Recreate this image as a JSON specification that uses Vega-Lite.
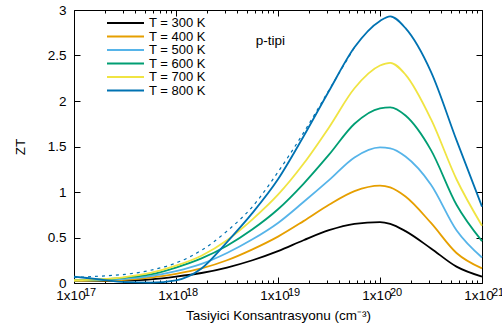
{
  "$schema": "https://vega.github.io/schema/vega-lite/v6.json",
  "width": 408,
  "height": 273,
  "autosize": "none",
  "padding": {"left": 74, "top": 10, "right": 20, "bottom": 52},
  "background": "white",
  "config": {
    "view": {"stroke": "#000", "strokeWidth": 1},
    "font": "Liberation Sans",
    "axis": {
      "grid": false, "domain": false, "tickColor": "#000", "tickWidth": 1,
      "labelColor": "#000", "titleColor": "#000",
      "labelFont": "Liberation Sans", "titleFont": "Liberation Sans",
      "labelFontSize": 13.5, "titleFontSize": 13.5, "titleFontWeight": "normal",
      "labelFlush": false, "labelOverlap": false
    }
  },
  "datasets": {
    "curves": [
      {"n": 1e17, "ZT": 0.02, "T": "T = 300 K"},
      {"n": 1.778e17, "ZT": 0.02, "T": "T = 300 K"},
      {"n": 3.162e17, "ZT": 0.025, "T": "T = 300 K"},
      {"n": 5.623e17, "ZT": 0.04, "T": "T = 300 K"},
      {"n": 1e18, "ZT": 0.07, "T": "T = 300 K"},
      {"n": 1.778e18, "ZT": 0.11, "T": "T = 300 K"},
      {"n": 3.162e18, "ZT": 0.17, "T": "T = 300 K"},
      {"n": 5.623e18, "ZT": 0.25, "T": "T = 300 K"},
      {"n": 1e19, "ZT": 0.35, "T": "T = 300 K"},
      {"n": 1.778e19, "ZT": 0.47, "T": "T = 300 K"},
      {"n": 3.162e19, "ZT": 0.58, "T": "T = 300 K"},
      {"n": 5.623e19, "ZT": 0.65, "T": "T = 300 K"},
      {"n": 1e20, "ZT": 0.67, "T": "T = 300 K"},
      {"n": 1.259e20, "ZT": 0.65, "T": "T = 300 K"},
      {"n": 1.778e20, "ZT": 0.57, "T": "T = 300 K"},
      {"n": 3.162e20, "ZT": 0.38, "T": "T = 300 K"},
      {"n": 5.623e20, "ZT": 0.18, "T": "T = 300 K"},
      {"n": 1e21, "ZT": 0.07, "T": "T = 300 K"},

      {"n": 1e17, "ZT": 0.02, "T": "T = 400 K"},
      {"n": 1.778e17, "ZT": 0.025, "T": "T = 400 K"},
      {"n": 3.162e17, "ZT": 0.035, "T": "T = 400 K"},
      {"n": 5.623e17, "ZT": 0.06, "T": "T = 400 K"},
      {"n": 1e18, "ZT": 0.10, "T": "T = 400 K"},
      {"n": 1.778e18, "ZT": 0.16, "T": "T = 400 K"},
      {"n": 3.162e18, "ZT": 0.25, "T": "T = 400 K"},
      {"n": 5.623e18, "ZT": 0.37, "T": "T = 400 K"},
      {"n": 1e19, "ZT": 0.51, "T": "T = 400 K"},
      {"n": 1.778e19, "ZT": 0.68, "T": "T = 400 K"},
      {"n": 3.162e19, "ZT": 0.86, "T": "T = 400 K"},
      {"n": 5.623e19, "ZT": 1.01, "T": "T = 400 K"},
      {"n": 1e20, "ZT": 1.07, "T": "T = 400 K"},
      {"n": 1.259e20, "ZT": 1.05, "T": "T = 400 K"},
      {"n": 1.778e20, "ZT": 0.95, "T": "T = 400 K"},
      {"n": 3.162e20, "ZT": 0.66, "T": "T = 400 K"},
      {"n": 5.623e20, "ZT": 0.33, "T": "T = 400 K"},
      {"n": 1e21, "ZT": 0.16, "T": "T = 400 K"},

      {"n": 1e17, "ZT": 0.03, "T": "T = 500 K"},
      {"n": 1.778e17, "ZT": 0.03, "T": "T = 500 K"},
      {"n": 3.162e17, "ZT": 0.045, "T": "T = 500 K"},
      {"n": 5.623e17, "ZT": 0.075, "T": "T = 500 K"},
      {"n": 1e18, "ZT": 0.13, "T": "T = 500 K"},
      {"n": 1.778e18, "ZT": 0.21, "T": "T = 500 K"},
      {"n": 3.162e18, "ZT": 0.33, "T": "T = 500 K"},
      {"n": 5.623e18, "ZT": 0.48, "T": "T = 500 K"},
      {"n": 1e19, "ZT": 0.66, "T": "T = 500 K"},
      {"n": 1.778e19, "ZT": 0.89, "T": "T = 500 K"},
      {"n": 3.162e19, "ZT": 1.13, "T": "T = 500 K"},
      {"n": 5.623e19, "ZT": 1.38, "T": "T = 500 K"},
      {"n": 1e20, "ZT": 1.49, "T": "T = 500 K"},
      {"n": 1.259e20, "ZT": 1.48, "T": "T = 500 K"},
      {"n": 1.778e20, "ZT": 1.39, "T": "T = 500 K"},
      {"n": 3.162e20, "ZT": 1.08, "T": "T = 500 K"},
      {"n": 5.623e20, "ZT": 0.58, "T": "T = 500 K"},
      {"n": 1e21, "ZT": 0.28, "T": "T = 500 K"},

      {"n": 1e17, "ZT": 0.03, "T": "T = 600 K"},
      {"n": 1.778e17, "ZT": 0.04, "T": "T = 600 K"},
      {"n": 3.162e17, "ZT": 0.06, "T": "T = 600 K"},
      {"n": 5.623e17, "ZT": 0.095, "T": "T = 600 K"},
      {"n": 1e18, "ZT": 0.17, "T": "T = 600 K"},
      {"n": 1.778e18, "ZT": 0.27, "T": "T = 600 K"},
      {"n": 3.162e18, "ZT": 0.41, "T": "T = 600 K"},
      {"n": 5.623e18, "ZT": 0.59, "T": "T = 600 K"},
      {"n": 1e19, "ZT": 0.81, "T": "T = 600 K"},
      {"n": 1.778e19, "ZT": 1.09, "T": "T = 600 K"},
      {"n": 3.162e19, "ZT": 1.41, "T": "T = 600 K"},
      {"n": 5.623e19, "ZT": 1.75, "T": "T = 600 K"},
      {"n": 1e20, "ZT": 1.92, "T": "T = 600 K"},
      {"n": 1.259e20, "ZT": 1.93, "T": "T = 600 K"},
      {"n": 1.778e20, "ZT": 1.84, "T": "T = 600 K"},
      {"n": 3.162e20, "ZT": 1.46, "T": "T = 600 K"},
      {"n": 5.623e20, "ZT": 0.86, "T": "T = 600 K"},
      {"n": 1e21, "ZT": 0.46, "T": "T = 600 K"},

      {"n": 1e17, "ZT": 0.03, "T": "T = 700 K"},
      {"n": 1.778e17, "ZT": 0.04, "T": "T = 700 K"},
      {"n": 3.162e17, "ZT": 0.065, "T": "T = 700 K"},
      {"n": 5.623e17, "ZT": 0.11, "T": "T = 700 K"},
      {"n": 1e18, "ZT": 0.19, "T": "T = 700 K"},
      {"n": 1.778e18, "ZT": 0.30, "T": "T = 700 K"},
      {"n": 3.162e18, "ZT": 0.47, "T": "T = 700 K"},
      {"n": 5.623e18, "ZT": 0.70, "T": "T = 700 K"},
      {"n": 1e19, "ZT": 0.97, "T": "T = 700 K"},
      {"n": 1.778e19, "ZT": 1.31, "T": "T = 700 K"},
      {"n": 3.162e19, "ZT": 1.71, "T": "T = 700 K"},
      {"n": 5.623e19, "ZT": 2.14, "T": "T = 700 K"},
      {"n": 1e20, "ZT": 2.39, "T": "T = 700 K"},
      {"n": 1.259e20, "ZT": 2.42, "T": "T = 700 K"},
      {"n": 1.778e20, "ZT": 2.29, "T": "T = 700 K"},
      {"n": 3.162e20, "ZT": 1.80, "T": "T = 700 K"},
      {"n": 5.623e20, "ZT": 1.14, "T": "T = 700 K"},
      {"n": 1e21, "ZT": 0.63, "T": "T = 700 K"},

      {"n": 1e17, "ZT": 0.07, "T": "T = 800 K"},
      {"n": 1.778e17, "ZT": 0.04, "T": "T = 800 K"},
      {"n": 3.162e17, "ZT": 0.01, "T": "T = 800 K"},
      {"n": 5.623e17, "ZT": 0.005, "T": "T = 800 K"},
      {"n": 1e18, "ZT": 0.03, "T": "T = 800 K"},
      {"n": 1.778e18, "ZT": 0.16, "T": "T = 800 K"},
      {"n": 3.162e18, "ZT": 0.45, "T": "T = 800 K"},
      {"n": 5.623e18, "ZT": 0.77, "T": "T = 800 K"},
      {"n": 1e19, "ZT": 1.14, "T": "T = 800 K"},
      {"n": 1.778e19, "ZT": 1.61, "T": "T = 800 K"},
      {"n": 3.162e19, "ZT": 2.11, "T": "T = 800 K"},
      {"n": 5.623e19, "ZT": 2.59, "T": "T = 800 K"},
      {"n": 1e20, "ZT": 2.88, "T": "T = 800 K"},
      {"n": 1.259e20, "ZT": 2.93, "T": "T = 800 K"},
      {"n": 1.778e20, "ZT": 2.80, "T": "T = 800 K"},
      {"n": 3.162e20, "ZT": 2.32, "T": "T = 800 K"},
      {"n": 5.623e20, "ZT": 1.57, "T": "T = 800 K"},
      {"n": 1e21, "ZT": 0.84, "T": "T = 800 K"}
    ],
    "dashed": [
      {"n": 1e17, "ZT": 0.06},
      {"n": 1.778e17, "ZT": 0.075},
      {"n": 3.162e17, "ZT": 0.095},
      {"n": 5.623e17, "ZT": 0.14},
      {"n": 1e18, "ZT": 0.22},
      {"n": 1.778e18, "ZT": 0.36},
      {"n": 3.162e18, "ZT": 0.57},
      {"n": 5.623e18, "ZT": 0.84},
      {"n": 1e19, "ZT": 1.22},
      {"n": 1.778e19, "ZT": 1.65},
      {"n": 3.162e19, "ZT": 2.12},
      {"n": 5.623e19, "ZT": 2.59}
    ]
  },
  "layer": [
    {
      "data": {"name": "dashed"},
      "mark": {"type": "line", "color": "#0072b2", "strokeWidth": 1.2, "strokeDash": [3, 4], "interpolate": "monotone"},
      "encoding": {
        "x": {"field": "n", "type": "quantitative",
              "scale": {"type": "log", "domain": [1e17, 1e21], "nice": false},
              "axis": {"orient": "bottom", "values": [2e17,3e17,4e17,5e17,6e17,7e17,8e17,9e17,2e18,3e18,4e18,5e18,6e18,7e18,8e18,9e18,2e19,3e19,4e19,5e19,6e19,7e19,8e19,9e19,2e20,3e20,4e20,5e20,6e20,7e20,8e20,9e20],
                       "tickSize": -3, "labels": false, "title": null}},
        "y": {"field": "ZT", "type": "quantitative",
              "scale": {"domain": [0, 3], "nice": false},
              "axis": {"orient": "right", "values": [0, 0.5, 1, 1.5, 2, 2.5, 3], "tickSize": -6, "labels": false, "title": null}}
      }
    },
    {
      "data": {"name": "curves"},
      "mark": {"type": "line", "strokeWidth": 1.8, "interpolate": "monotone"},
      "encoding": {
        "x": {"field": "n", "type": "quantitative",
              "axis": {"orient": "bottom", "values": [1e17, 1e18, 1e19, 1e20, 1e21], "tickSize": -6,
                       "labelPadding": 22, "labelBaseline": "alphabetic", "labelOffset": -3.5,
                       "labelExpr": "'1x10'",
                       "title": "Tasiyici Konsantrasyonu (cm⁻³)", "titlePadding": 7}},
        "y": {"field": "ZT", "type": "quantitative",
              "axis": {"orient": "left", "values": [0, 0.5, 1, 1.5, 2, 2.5, 3], "format": "~g", "tickSize": -6, "labelPadding": 14,
                       "title": "ZT", "titlePadding": 20}},
        "color": {"field": "T", "type": "nominal",
                  "scale": {"domain": ["T = 300 K", "T = 400 K", "T = 500 K", "T = 600 K", "T = 700 K", "T = 800 K"],
                            "range": ["#000000", "#e69f00", "#56b4e9", "#009e73", "#f0e442", "#0072b2"]},
                  "legend": {"title": null, "orient": "none", "legendX": 20, "legendY": 7, "direction": "vertical",
                             "symbolType": "stroke", "symbolSize": 1369, "symbolStrokeWidth": 2, "symbolOffset": 12,
                             "labelOffset": 4,
                             "labelFontSize": 13, "labelFont": "Liberation Sans", "labelColor": "#000",
                             "rowPadding": 0.5, "clipHeight": 12, "padding": 0, "labelBaseline": "middle"}}
      }
    },
    {
      "data": {"name": "dashed"},
      "mark": {"type": "line", "opacity": 0},
      "encoding": {
        "x": {"field": "n", "type": "quantitative",
              "axis": {"orient": "top", "values": [1e17, 1e18, 1e19, 1e20, 1e21], "tickSize": -6, "labels": false, "title": null}},
        "y": {"field": "ZT", "type": "quantitative", "axis": null}
      }
    },
    {
      "data": {"name": "dashed"},
      "mark": {"type": "line", "opacity": 0},
      "encoding": {
        "x": {"field": "n", "type": "quantitative",
              "axis": {"orient": "top", "values": [2e17,3e17,4e17,5e17,6e17,7e17,8e17,9e17,2e18,3e18,4e18,5e18,6e18,7e18,8e18,9e18,2e19,3e19,4e19,5e19,6e19,7e19,8e19,9e19,2e20,3e20,4e20,5e20,6e20,7e20,8e20,9e20],
                       "tickSize": -3, "labels": false, "title": null}},
        "y": {"field": "ZT", "type": "quantitative", "axis": null}
      }
    },
    {
      "data": {"name": "dashed"},
      "mark": {"type": "line", "opacity": 0},
      "encoding": {
        "x": {"field": "n", "type": "quantitative",
              "axis": {"orient": "bottom", "values": [1e17, 1e18, 1e19, 1e20, 1e21], "ticks": false, "tickSize": 0,
                       "labelPadding": 12, "labelBaseline": "alphabetic", "labelOffset": 15.5, "labelFontSize": 11,
                       "labelExpr": "datum.value < 5e17 ? '17' : datum.value < 5e18 ? '18' : datum.value < 5e19 ? '19' : datum.value < 5e20 ? '20' : '21'",
                       "title": null}},
        "y": {"field": "ZT", "type": "quantitative", "axis": null}
      }
    },
    {
      "data": {"values": [{"label": "p-tipi"}]},
      "mark": {"type": "text", "font": "Liberation Sans", "fontSize": 13.5, "color": "#000", "align": "center", "baseline": "middle"},
      "encoding": {
        "x": {"datum": 8.4e18, "type": "quantitative", "axis": null},
        "y": {"datum": 2.66, "type": "quantitative", "axis": null},
        "text": {"field": "label", "type": "nominal"}
      }
    }
  ],
  "resolve": {"axis": {"x": "independent", "y": "independent"}}
}
